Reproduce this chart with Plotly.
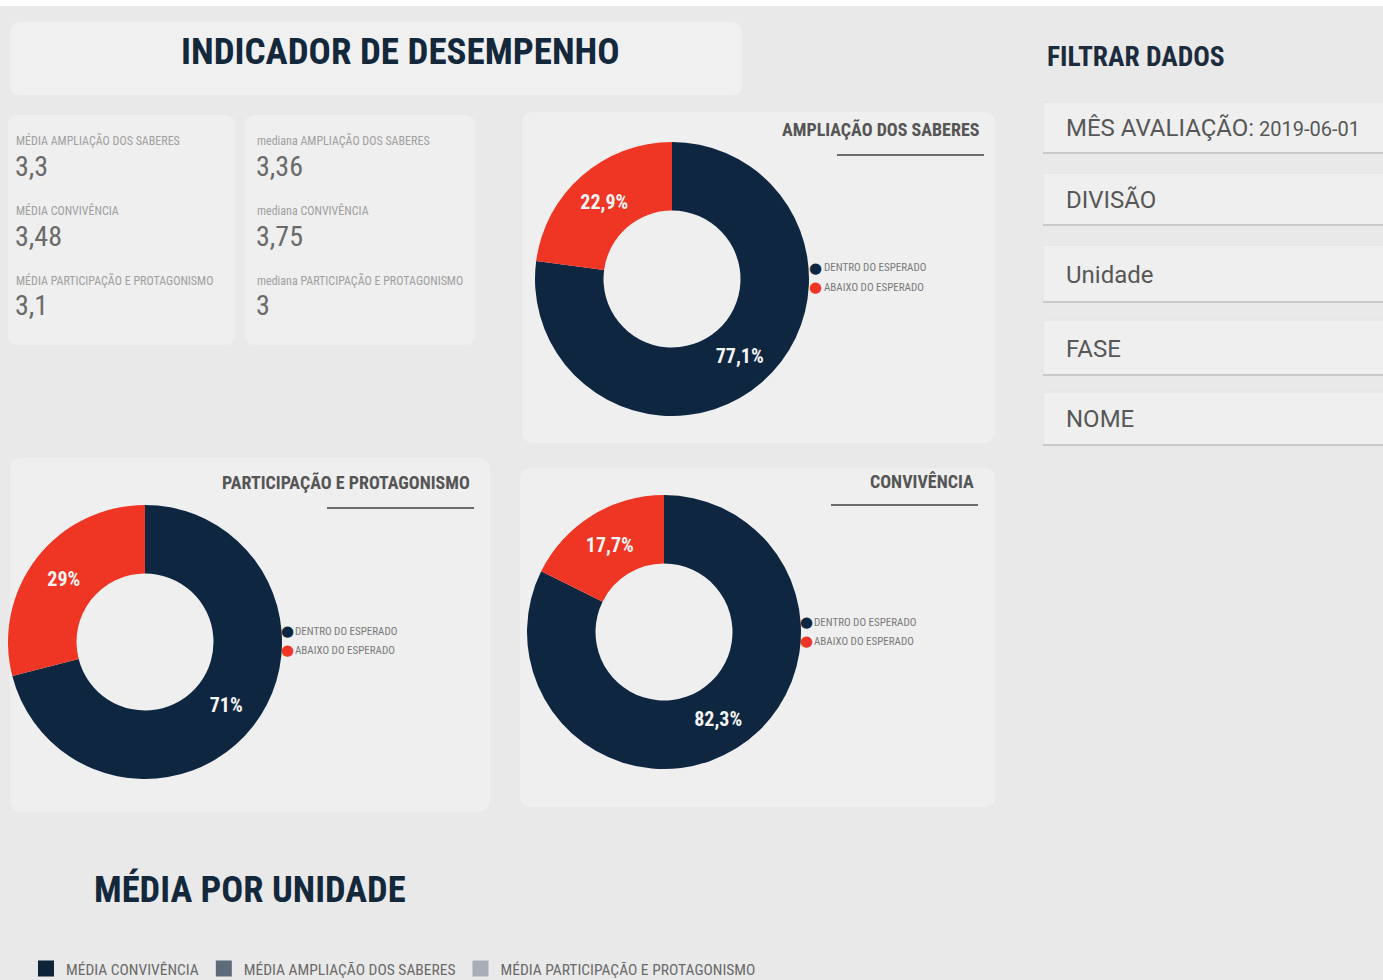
import plotly.graph_objects as go

W, H = 1383, 980

# ---------------- data ----------------
status_labels = ["DENTRO DO ESPERADO", "ABAIXO DO ESPERADO"]
status_colors = ["#0e2640", "#ef3523"]

ampliacao_values = [77.1, 22.9]
participacao_values = [71.0, 29.0]
convivencia_values = [82.3, 17.7]

donut_titles = ["AMPLIAÇÃO DOS SABERES", "PARTICIPAÇÃO E PROTAGONISMO", "CONVIVÊNCIA"]

media_labels = ["MÉDIA AMPLIAÇÃO DOS SABERES", "MÉDIA CONVIVÊNCIA", "MÉDIA PARTICIPAÇÃO E PROTAGONISMO"]
media_values = [3.3, 3.48, 3.1]
mediana_labels = ["mediana AMPLIAÇÃO DOS SABERES", "mediana CONVIVÊNCIA", "mediana PARTICIPAÇÃO E PROTAGONISMO"]
mediana_values = [3.36, 3.75, 3]

filter_labels = ["MÊS AVALIAÇÃO:", "DIVISÃO", "Unidade", "FASE", "NOME"]
filter_values = ["2019-06-01", "", "", "", ""]

bar_series = ["MÉDIA CONVIVÊNCIA", "MÉDIA AMPLIAÇÃO DOS SABERES", "MÉDIA PARTICIPAÇÃO E PROTAGONISMO"]
bar_colors = ["#0d2338", "#5d6b7a", "#a9adb8"]

# ---------------- helpers ----------------
NARROW = "Liberation Sans Narrow, Roboto Condensed, Arial Narrow, Roboto, sans-serif"
ROBOTO = "Roboto, sans-serif"


def px(x):
    return x / W


def py(y):
    return 1 - y / H


def rrect(x0, y0, x1, y1, r=8, fill="#efefef"):
    path = (
        f"M {px(x0 + r)} {py(y0)} L {px(x1 - r)} {py(y0)} "
        f"Q {px(x1)} {py(y0)} {px(x1)} {py(y0 + r)} "
        f"L {px(x1)} {py(y1 - r)} Q {px(x1)} {py(y1)} {px(x1 - r)} {py(y1)} "
        f"L {px(x0 + r)} {py(y1)} Q {px(x0)} {py(y1)} {px(x0)} {py(y1 - r)} "
        f"L {px(x0)} {py(y0 + r)} Q {px(x0)} {py(y0)} {px(x0 + r)} {py(y0)} Z"
    )
    return dict(type="path", xref="paper", yref="paper", path=path,
                fillcolor=fill, line=dict(width=0), layer="below")


def hline(x0, x1, y, color="#6b6b6b", width=2):
    return dict(type="line", xref="paper", yref="paper", x0=px(x0), x1=px(x1),
                y0=py(y), y1=py(y), line=dict(color=color, width=width), layer="below")


def ann(text, x, y, size, color, family=ROBOTO, xanchor="left", yanchor="middle", bold=False):
    if bold:
        text = f"<b>{text}</b>"
    return dict(text=text, x=px(x), y=py(y), xref="paper", yref="paper",
                xanchor=xanchor, yanchor=yanchor, showarrow=False,
                font=dict(size=size, color=color, family=family))


def fmt(v):
    return f"{v:g}".replace(".", ",")


shapes = []
annotations = []

# white strip at top
shapes.append(dict(type="rect", xref="paper", yref="paper", x0=0, x1=1, y0=py(6), y1=1,
                   fillcolor="#ffffff", line=dict(width=0), layer="below"))

# ---------------- header ----------------
shapes.append(rrect(10, 22, 742, 95, r=10, fill="#f0f0f0"))
annotations.append(ann("INDICADOR DE DESEMPENHO", 401, 52, 37, "#14283c", NARROW, "center", bold=True))

# ---------------- KPI cards ----------------
shapes.append(rrect(8, 115, 235, 345, r=10, fill="#efefef"))
shapes.append(rrect(245, 115, 475, 345, r=10, fill="#efefef"))
for i in range(3):
    ly = 140 + 70 * i
    vy = 166 + 70 * i
    annotations.append(ann(media_labels[i], 14, ly, 12, "#a0a0a0", NARROW))
    annotations.append(ann(fmt(media_values[i]), 13, vy, 28, "#6a6a6a", NARROW))
    annotations.append(ann(mediana_labels[i], 255, ly, 12, "#a0a0a0", NARROW))
    annotations.append(ann(fmt(mediana_values[i]), 254, vy, 28, "#6a6a6a", NARROW))

# ---------------- donut panels ----------------
donuts = [
    # values, title, panel box, center, diameter, title right x, title y, line y, legend dot x, legend y
    (ampliacao_values, donut_titles[0], (522, 112, 995, 443), (672, 279), 274, 982, 129, 155, 816, 268),
    (participacao_values, donut_titles[1], (10, 458, 490, 812), (145, 642), 274, 472, 482, 508, 287, 631),
    (convivencia_values, donut_titles[2], (520, 468, 995, 807), (664, 632), 274, 976, 481, 505, 806, 622),
]

fig = go.Figure()

for vals, title, box, (cx, cy), d, tx, ty, lny, lgx, lgy in donuts:
    shapes.append(rrect(*box, r=12, fill="#efefef"))
    annotations.append(ann(title, tx, ty, 18, "#555555", NARROW, "right", bold=True))
    shapes.append(hline(tx - 145, tx + 2, lny))
    for k, lab in enumerate(status_labels):
        yy = lgy + 19 * k
        annotations.append(ann("●", lgx, yy, 15, status_colors[k], "DejaVu Sans", "center"))
        annotations.append(ann(lab, lgx + 6, yy, 11, "#7a7a7a", NARROW))
    fig.add_trace(go.Pie(
        labels=status_labels, values=vals, hole=0.5, sort=False, direction="clockwise",
        marker=dict(colors=status_colors, line=dict(width=0)),
        textinfo="percent", textposition="inside", insidetextorientation="horizontal",
        texttemplate="<b>%{percent}</b>",
        textfont=dict(size=20, color="#f4f4f4", family=NARROW),
        showlegend=False, hoverinfo="label+percent",
        domain=dict(x=[px(cx - d / 2), px(cx + d / 2)], y=[py(cy + d / 2), py(cy - d / 2)]),
    ))

# ---------------- filters ----------------
annotations.append(ann("FILTRAR DADOS", 1045, 56, 27.5, "#1c2c3e", NARROW, bold=True))
filter_boxes = [(102, 153), (173, 225), (245, 302), (320, 375), (392, 445)]
for (y0, y1), lab, val in zip(filter_boxes, filter_labels, filter_values):
    shapes.append(dict(type="rect", xref="paper", yref="paper", x0=px(1043), x1=1.01,
                       y0=py(y1), y1=py(y0), fillcolor="#efefef",
                       line=dict(width=1, color="#e2e2e2"), layer="below"))
    shapes.append(hline(1043, W, y1, color="#c9c9c9", width=2))
    txt = lab if not val else f"{lab}<span style='font-size:20px'> {val}</span>"
    annotations.append(ann(txt, 1064, (y0 + y1) / 2 + 1, 24, "#575757", ROBOTO))

# ---------------- média por unidade ----------------
annotations.append(ann("MÉDIA POR UNIDADE", 92, 889, 36.5, "#14283c", NARROW, bold=True))

for name, col in zip(bar_series, bar_colors):
    fig.add_trace(go.Bar(x=[None], y=[None], name=name,
                         marker=dict(color=col, line=dict(color=col, width=4)),
                         xaxis="x", yaxis="y", showlegend=True))

fig.update_layout(
    width=W, height=H,
    margin=dict(l=0, r=0, t=0, b=0, autoexpand=False),
    paper_bgcolor="#e9e9e9",
    plot_bgcolor="rgba(0,0,0,0)",
    separators=",.",
    shapes=shapes,
    annotations=annotations,
    xaxis=dict(visible=False, domain=[0, 0.01]),
    yaxis=dict(visible=False, domain=[0, 0.01]),
    showlegend=True,
    legend=dict(orientation="h", x=px(26), y=py(969), xanchor="left", yanchor="middle",
                bgcolor="rgba(0,0,0,0)", font=dict(size=15.5, color="#6a6a6a", family=NARROW),
                itemwidth=30, traceorder="normal"),
)

fig.write_html("out.html", config={"displayModeBar": False},
               post_script="document.body.style.margin='0';document.body.style.overflow='hidden';")
